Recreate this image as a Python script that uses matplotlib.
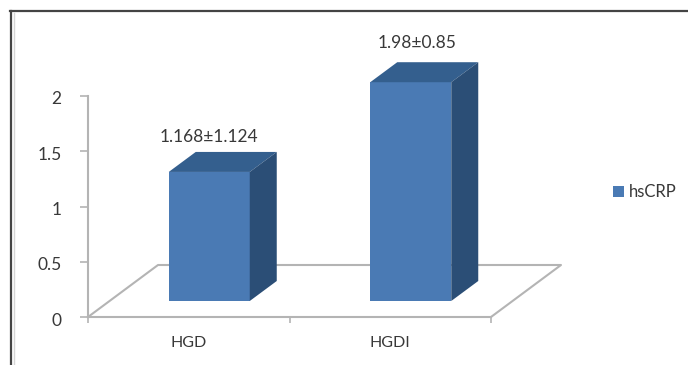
import matplotlib
matplotlib.use("Agg")
import matplotlib.pyplot as plt
from matplotlib.patches import Polygon, Patch
from matplotlib.lines import Line2D
from matplotlib.transforms import ScaledTranslation

categories = ["HGD", "HGDI"]
hscrp = [1.168, 1.98]
value_labels = ["1.168±1.124", "1.98±0.85"]
y_ticks = [0, 0.5, 1, 1.5, 2]
y_tick_labels = ["0", "0.5", "1", "1.5", "2"]
series_name = "hsCRP"

W, H = 688, 365
FRONT, TOP, SIDE = "#4a7ab4", "#345f8e", "#2b4e76"
AXIS, TEXT = "#b4b4b4", "#383838"
plt.rcParams["font.family"] = ["Lato", "DejaVu Sans"]

fig = plt.figure(figsize=(W / 100, H / 100), dpi=100, facecolor="white")
L, R, T, B = 88, 491, 96, 317
ax = fig.add_axes([L / W, 1 - B / H, (R - L) / W, (B - T) / H])
ax.set_xlim(-0.5, 1.5)
ax.set_ylim(0, 2)
ax.patch.set_visible(False)
for s in ("top", "right"):
    ax.spines[s].set_visible(False)
for s in ("left", "bottom"):
    ax.spines[s].set_color(AXIS)
    ax.spines[s].set_linewidth(1.5)

ax.set_yticks(y_ticks, y_tick_labels, fontsize=12.5, color=TEXT)
ax.set_xticks([-0.5, 0.5, 1.5], minor=False, labels=[])
ax.set_xticks([0, 1], categories, minor=True, fontsize=11.5, color=TEXT)
ax.tick_params(axis="y", length=6, color=AXIS, pad=13, width=1.2)
ax.tick_params(axis="x", which="major", length=4, color=AXIS, direction="out", width=1.2)
ax.tick_params(axis="x", which="minor", length=0, pad=14)
drop = ScaledTranslation(0, -2 / 100, fig.dpi_scale_trans)
for t in ax.get_yticklabels():
    t.set_transform(t.get_transform() + drop)

# floor depth and bar depth, in data units
fx, fy = 70 / 201.5, 52 / 110.5
dx, dy = 27 / 201.5, 20 / 110.5
base = 16 / 110.5
width = 81 / 201.5
shift = 20.5 / 201.5
label_dx = [0.0, 6.5 / 201.5]
label_dy = [15 / 110.5, 19 / 110.5]

ax.plot([-0.5, -0.5 + fx, 1.5 + fx, 1.5], [0, fy, fy, 0], color=AXIS, lw=1.5,
        clip_on=False, zorder=1)

for i, (v, lab) in enumerate(zip(hscrp, value_labels)):
    x0 = i + shift - width / 2
    x1 = x0 + width
    y1 = base + v
    ax.add_patch(Polygon([(x0, base), (x1, base), (x1, y1), (x0, y1)], fc=FRONT, ec="none", zorder=3, clip_on=False))
    ax.add_patch(Polygon([(x0, y1), (x1, y1), (x1 + dx, y1 + dy), (x0 + dx, y1 + dy)], fc=TOP, ec="none", zorder=3, clip_on=False))
    ax.add_patch(Polygon([(x1, base), (x1 + dx, base + dy), (x1 + dx, y1 + dy), (x1, y1)], fc=SIDE, ec="none", zorder=3, clip_on=False))
    ax.text(i + shift + label_dx[i], y1 + dy + label_dy[i], lab, ha="center", va="center",
            fontsize=12.5, color=TEXT, clip_on=False)

leg = ax.legend(handles=[Patch(fc=FRONT, ec="none", label=series_name)], loc="center left",
                bbox_to_anchor=(608 / W, 1 - 192 / H), bbox_transform=fig.transFigure,
                frameon=False, fontsize=12, labelcolor=TEXT, handlelength=0.65, handleheight=0.65,
                handletextpad=0.3, borderpad=0.3, borderaxespad=0)

# picture frame
for xs, ys, c, lw in [
    ([10.5, 10.5], [11, 365], "#444444", 1.6),
    ([14, 14], [13, 365], "#d5d5d5", 1.0),
    ([10, 688], [11, 11], "#444444", 1.6),
]:
    fig.add_artist(Line2D([x / W for x in xs], [1 - y / H for y in ys], color=c, lw=lw))

fig.savefig("out.png", dpi=100)
